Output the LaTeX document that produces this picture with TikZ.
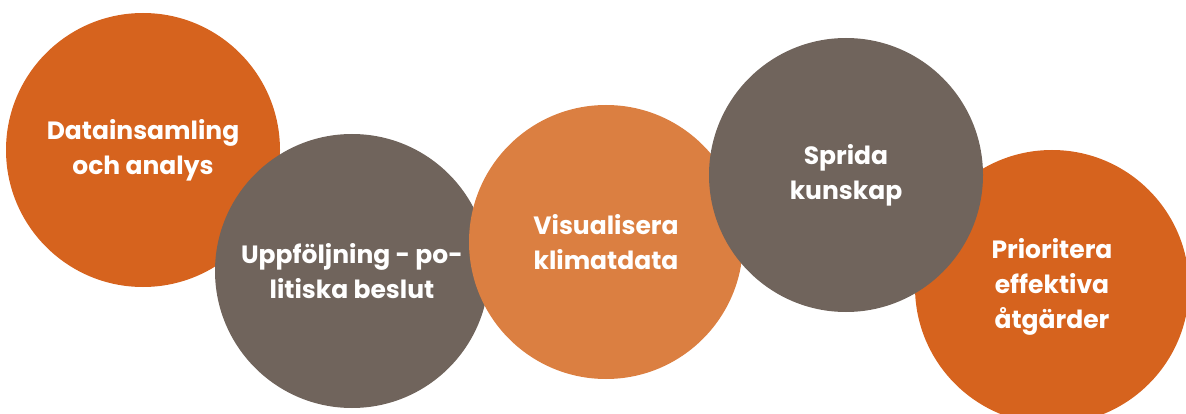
\documentclass[tikz,border=0pt]{standalone}
\usepackage{fontspec}
\setmainfont{Poppins}
\definecolor{darkor}{HTML}{D6631E}
\definecolor{lightor}{HTML}{DB7F41}
\definecolor{taupe}{HTML}{70645C}
\begin{document}
\begin{tikzpicture}[x=1pt,y=-1pt,
  bubble/.style={circle, minimum size=274pt, inner sep=0pt, text=white,
    font=\fontsize{25}{35}\selectfont\bfseries, align=center}]
\useasboundingbox (0,0) rectangle (1186,414);
\clip (0,0) rectangle (1186,414);
\node[bubble, fill=darkor] (c1) at (143,150) {Datainsamling\\och analys};
\node[bubble, fill=taupe] (c2) at (352,271) {Uppföljning - po-\\litiska beslut};
\node[bubble, fill=lightor] (c3) at (606,242) {Visualisera\\klimatdata};
\node[bubble, fill=darkor] (c5) at (1052,287) {Prioritera\\effektiva\\åtgärder};
\node[bubble, fill=taupe] (c4) at (846,175) {Sprida\\kunskap};
\end{tikzpicture}
\end{document}
